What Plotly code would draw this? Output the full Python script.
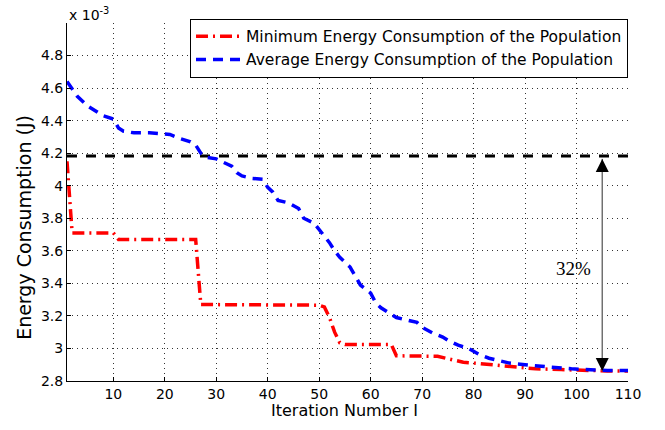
import plotly.graph_objects as go

# ---- data (energy in units of 1e-3 J) ----
iter_min = [1, 2, 10, 11, 26, 27, 50, 51, 52, 53, 54, 55, 64, 65, 73, 74, 75, 78, 80, 83, 84, 88, 92, 97, 101, 106, 110]
energy_min = [4.15, 3.71, 3.71, 3.67, 3.67, 3.27, 3.266, 3.255, 3.19, 3.10, 3.035, 3.025, 3.025, 2.955, 2.952, 2.945, 2.935, 2.915, 2.91, 2.90, 2.898, 2.885, 2.875, 2.87, 2.865, 2.862, 2.862]

iter_avg = [1, 3, 5, 8, 10, 11, 12, 14, 17, 21, 23, 25, 26, 27, 28, 30, 31, 33, 34, 35, 37, 39, 40, 41, 42, 44, 46, 47, 49, 50, 51, 52, 53, 54, 56, 57, 58, 60, 61, 62, 64, 65, 67, 69, 70, 72, 74, 75, 77, 79, 81, 83, 85, 87, 90, 92, 95, 99, 102, 106, 110]
energy_avg = [4.64, 4.55, 4.49, 4.43, 4.41, 4.355, 4.335, 4.325, 4.325, 4.315, 4.29, 4.27, 4.25, 4.2, 4.175, 4.165, 4.15, 4.12, 4.08, 4.06, 4.045, 4.04, 3.99, 3.96, 3.91, 3.895, 3.86, 3.80, 3.77, 3.73, 3.69, 3.65, 3.60, 3.56, 3.50, 3.44, 3.39, 3.34, 3.28, 3.25, 3.21, 3.19, 3.175, 3.16, 3.13, 3.095, 3.07, 3.05, 3.02, 3.0, 2.965, 2.94, 2.925, 2.91, 2.9, 2.893, 2.885, 2.875, 2.87, 2.865, 2.865]

reference_level = 4.183
arrow_iter = 105
arrow_top = 4.165
arrow_low = 2.862
pct_label = "32%"
pct_iter = 99.5
pct_level = 3.49

x_ticks = [10, 20, 30, 40, 50, 60, 70, 80, 90, 100, 110]
y_ticks = [2.8, 3.0, 3.2, 3.4, 3.6, 3.8, 4.0, 4.2, 4.4, 4.6, 4.8]
y_tick_text = ["2.8", "3", "3.2", "3.4", "3.6", "3.8", "4", "4.2", "4.4", "4.6", "4.8"]

FONT = "DejaVu Sans"

fig = go.Figure()

fig.add_trace(go.Scatter(
    x=[1, 110], y=[reference_level, reference_level], mode="lines",
    line=dict(color="black", width=3, dash="10px,9px"), showlegend=False, hoverinfo="skip"))

fig.add_trace(go.Scatter(
    x=iter_min, y=energy_min, mode="lines",
    name="Minimum Energy Consumption of the Population",
    line=dict(color="#ff0000", width=3.5, dash="12px,5px,2px,5px")))

fig.add_trace(go.Scatter(
    x=iter_avg, y=energy_avg, mode="lines",
    name="Average Energy Consumption of the Population",
    line=dict(color="#0000ff", width=3.5, dash="10px,7px")))

# double arrow: gray shaft, black heads
fig.add_trace(go.Scatter(
    x=[arrow_iter, arrow_iter], y=[arrow_top, arrow_low], mode="lines",
    line=dict(color="#707070", width=1.5), showlegend=False, hoverinfo="skip"))
fig.add_trace(go.Scatter(
    x=[arrow_iter, arrow_iter], y=[arrow_top, arrow_low], mode="markers",
    marker=dict(symbol=["arrow-up", "arrow-down"], size=13, color="black"),
    showlegend=False, hoverinfo="skip"))

fig.add_annotation(x=pct_iter, y=pct_level, text=pct_label, showarrow=False,
                   font=dict(family="Liberation Serif", size=19, color="black"))

# exponent label
fig.add_annotation(xref="paper", yref="paper", x=0, y=1, xanchor="left", yanchor="bottom",
                   yshift=-2, text="x 10<sup>-3</sup>", showarrow=False,
                   font=dict(family=FONT, size=14, color="black"))

# axis titles
fig.add_annotation(xref="paper", yref="paper", x=-0.077, y=0.43, textangle=-90,
                   xanchor="center", yanchor="middle",
                   text="Energy Consumption (J)", showarrow=False,
                   font=dict(family=FONT, size=19, color="black"))
fig.add_annotation(xref="paper", yref="paper", x=0.495, y=-0.083,
                   xanchor="center", yanchor="middle",
                   text="Iteration Number I", showarrow=False,
                   font=dict(family=FONT, size=16, color="black"))

grid = dict(showgrid=True, gridcolor="#333", griddash="1px,4px", gridwidth=1)

fig.update_layout(
    width=665, height=430,
    margin=dict(l=67, r=37, t=23, b=49),
    paper_bgcolor="white", plot_bgcolor="white",
    font=dict(family=FONT, size=14, color="black"),
    legend=dict(x=1, y=1.012, xanchor="right", yanchor="top",
                bordercolor="black", borderwidth=1, bgcolor="white",
                font=dict(family=FONT, size=15.5), tracegroupgap=0, itemwidth=45),
    xaxis=dict(range=[1, 110], tickvals=x_ticks, ticks="inside", ticklen=4,
               tickcolor="black", showline=True, linecolor="black", linewidth=1,
               zeroline=False, tickfont=dict(size=14), **grid),
    yaxis=dict(range=[2.8, 5.0], tickvals=y_ticks, ticktext=y_tick_text, ticks="inside",
               ticklen=4, tickcolor="black", showline=True, linecolor="black", linewidth=1,
               zeroline=False, tickfont=dict(size=14), **grid),
)

fig.write_html("out.html", config={"displayModeBar": False},
               post_script="document.body.style.margin='0px';document.body.style.padding='0px';")
